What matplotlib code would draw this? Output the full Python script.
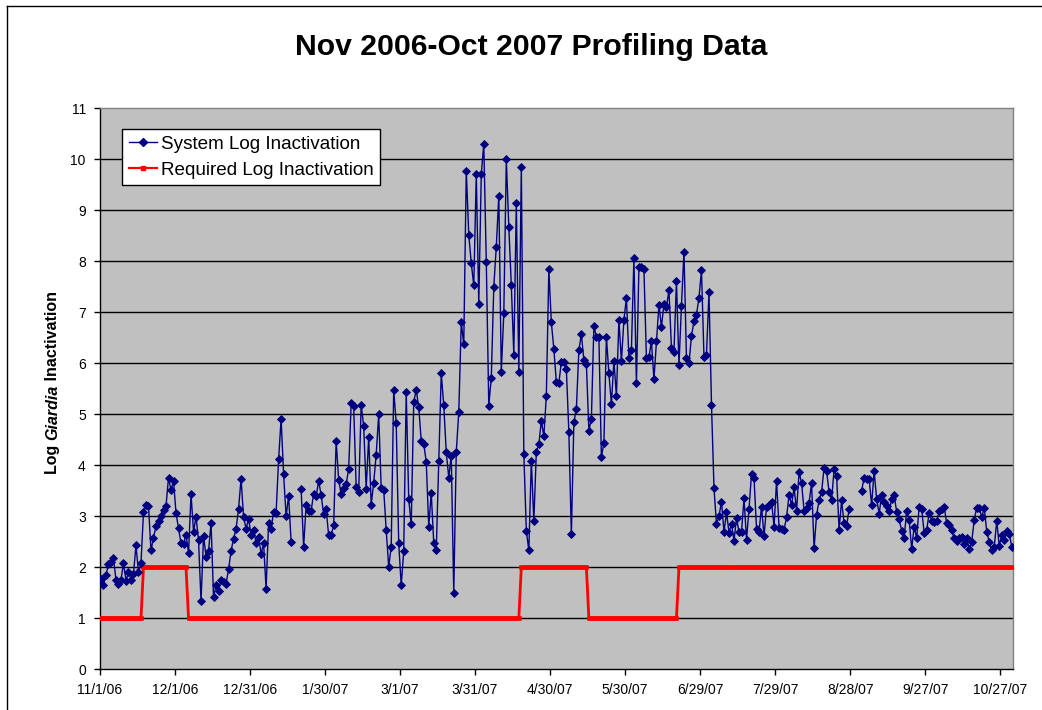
import numpy as np
import pandas as pd
import matplotlib
matplotlib.use("Agg")
import matplotlib.pyplot as plt
from matplotlib.lines import Line2D

# ---------------- data ----------------
start_date = "2006-11-01"
end_date = "2007-11-01"
nan = np.nan

# daily system log inactivation, starting 11/1/06 (nan = no reading)
system_log = [
    1.78, 1.65, 1.85, 2.06, 2.10, 2.18, 1.76, 1.67, 1.75, 2.08,
    1.74, 1.90, 1.76, 1.87, 2.43, 1.90, 2.08, 3.08, 3.22, 3.20,
    2.33, 2.58, 2.81, 2.90, 3.00, 3.12, 3.20, 3.76, 3.51, 3.70,
    3.06, 2.77, 2.47, 2.46, 2.64, 2.28, 3.43, 2.70, 2.99, 2.53,
    1.33, 2.62, 2.21, 2.32, 2.87, 1.41, 1.65, 1.54, 1.75, 1.72,
    1.68, 1.96, 2.32, 2.56, 2.76, 3.15, 3.74, 2.98, 2.76, 2.95,
    2.63, 2.73, 2.48, 2.59, 2.27, 2.47, 1.58, 2.87, 2.76, 3.08,
    3.07, 4.12, 4.91, 3.82, 3.00, 3.40, 2.50, nan, nan, nan,
    3.53, 2.40, 3.22, 3.11, 3.11, 3.44, 3.39, 3.70, 3.41, 3.05,
    3.14, 2.63, 2.63, 2.82, 4.48, 3.71, 3.44, 3.56, 3.63, 3.93,
    5.22, 5.16, 3.58, 3.48, 5.18, 4.77, 3.54, 4.55, 3.23, 3.66,
    4.21, 5.00, 3.55, 3.52, 2.73, 2.01, 2.40, 5.48, 4.83, 2.47,
    1.65, 2.31, 5.44, 3.34, 2.84, 5.24, 5.48, 5.14, 4.48, 4.42,
    4.07, 2.80, 3.46, 2.48, 2.33, 4.09, 5.80, 5.18, 4.26, 3.76,
    4.19, 1.50, 4.26, 5.04, 6.80, 6.37, 9.78, 8.52, 7.96, 7.53,
    9.71, 7.17, 9.71, 10.30, 7.99, 5.17, 5.72, 7.50, 8.29, 9.28,
    5.83, 6.98, 10.00, 8.68, 7.53, 6.17, 9.15, 5.83, 9.84, 4.23,
    2.72, 2.33, 4.09, 2.90, 4.26, 4.41, 4.87, 4.57, 5.36, 7.84,
    6.80, 6.28, 5.63, 5.61, 6.03, 6.03, 5.88, 4.65, 2.65, 4.84,
    5.11, 6.26, 6.57, 6.06, 5.99, 4.68, 4.91, 6.73, 6.52, 6.52,
    4.17, 4.43, 6.52, 5.80, 5.20, 6.05, 5.36, 6.85, 6.04, 6.85,
    7.28, 6.11, 6.27, 8.06, 5.61, 7.89, 7.88, 7.85, 6.10, 6.12,
    6.43, 5.69, 6.43, 7.15, 6.71, 7.16, 7.11, 7.43, 6.30, 6.22,
    7.61, 5.96, 7.13, 8.19, 6.11, 6.00, 6.53, 6.83, 6.95, 7.29,
    7.82, 6.13, 6.17, 7.39, 5.19, 3.56, 2.84, 3.00, 3.29, 2.69,
    3.08, 2.68, 2.85, 2.52, 2.97, 2.69, 2.70, 3.35, 2.54, 3.15,
    3.83, 3.75, 2.76, 2.70, 3.19, 2.61, 3.19, 3.23, 3.29, 2.80,
    3.69, 2.78, 2.76, 2.74, 2.98, 3.42, 3.22, 3.57, 3.11, 3.86,
    3.66, 3.11, 3.16, 3.27, 3.65, 2.37, 3.03, 3.31, 3.48, 3.95,
    3.88, 3.48, 3.32, 3.92, 3.79, 2.74, 3.31, 2.86, 2.81, 3.14,
    nan, nan, nan, nan, 3.50, 3.76, 3.73, 3.73, 3.22, 3.89,
    3.34, 3.05, 3.41, 3.28, 3.20, 3.10, 3.33, 3.41, 3.09, 2.94,
    2.72, 2.58, 3.10, 2.93, 2.36, 2.80, 2.57, 3.19, 3.14, 2.68,
    2.73, 3.07, 2.91, 2.89, 2.91, 3.10, 3.15, 3.19, 2.86, 2.83,
    2.73, 2.57, 2.52, 2.57, 2.60, 2.46, 2.57, 2.35, 2.50, 2.93,
    3.17, 3.17, 2.98, 3.17, 2.70, 2.50, 2.34, 2.40, 2.91, 2.42,
    2.63, 2.53, 2.72, 2.66, 2.40,
]

# required log inactivation: level and number of consecutive days at that level
required_levels = [1, 2, 1, 2, 1, 2]
required_run_days = [17, 18, 133, 27, 36, 134]

tick_dates = ["2006-11-01", "2006-12-01", "2006-12-31", "2007-01-30",
              "2007-03-01", "2007-03-31", "2007-04-30", "2007-05-30",
              "2007-06-29", "2007-07-29", "2007-08-28", "2007-09-27",
              "2007-10-27"]
tick_labels = ["11/1/06", "12/1/06", "12/31/06", "1/30/07", "3/1/07",
               "3/31/07", "4/30/07", "5/30/07", "6/29/07", "7/29/07",
               "8/28/07", "9/27/07", "10/27/07"]
y_ticks = list(range(0, 12))

series_labels = ["System Log Inactivation", "Required Log Inactivation"]
title = "Nov 2006-Oct 2007 Profiling Data"

# ---------------- styling ----------------
plt.rcParams["font.family"] = ["Liberation Sans", "DejaVu Sans"]

W, H = 1042, 710
fig = plt.figure(figsize=(W / 100, H / 100), dpi=100)
fig.patch.set_facecolor("white")

# plot area (pixel box converted to figure fractions)
px_left, px_right, px_top, px_bottom = 99.7, 1013.0, 108.3, 669.3
ax = fig.add_axes([px_left / W, 1 - px_bottom / H,
                   (px_right - px_left) / W, (px_bottom - px_top) / H])
ax.set_facecolor("#C0C0C0")

# points sit in the middle of each day slot
days = pd.date_range(start_date, periods=len(system_log), freq="D") + pd.Timedelta(hours=12)
required = np.repeat(required_levels, required_run_days)

BLUE = "#000080"
RED = "#FF0000"

ax.plot(days, system_log, color=BLUE, lw=1.0, marker="D", ms=4.2,
        mfc=BLUE, mec=BLUE, mew=0.6, zorder=4)
ax.plot(days, required, color=RED, lw=2.0, marker="s", ms=3.0,
        mfc=RED, mec=RED, mew=0.4, zorder=3)

ax.set_xlim(pd.Timestamp(start_date), pd.Timestamp(end_date))
ax.set_ylim(0, 11)

ax.set_xticks(pd.to_datetime(tick_dates))
ax.set_xticklabels(tick_labels)
ax.set_yticks(y_ticks)
ax.set_yticklabels([str(v) for v in y_ticks])

for v in y_ticks[1:-1]:
    ax.axhline(v, color="black", lw=1.0, zorder=1)

for side in ("top", "right"):
    ax.spines[side].set_color("#808080")
    ax.spines[side].set_linewidth(1.0)
for side in ("left", "bottom"):
    ax.spines[side].set_color("black")
    ax.spines[side].set_linewidth(1.0)

ax.tick_params(axis="both", direction="out", length=4, width=1.0,
               colors="black", labelsize=10)
ax.tick_params(axis="x", pad=6)
ax.tick_params(axis="y", pad=6)

# title
fig.text(531 / W, 1 - 55 / H, title, ha="center", va="baseline",
         fontsize=21.7, fontweight="bold")

# legend
handles = [
    Line2D([], [], color=BLUE, lw=1.0, marker="D", ms=4.2, mfc=BLUE, mec=BLUE),
    Line2D([], [], color=RED, lw=1.6, marker="s", ms=2.6, mfc=RED, mec=RED),
]
leg = fig.legend(handles, series_labels, loc="upper left",
                 bbox_to_anchor=(122 / W, 1 - 129 / H),
                 frameon=True, fancybox=False, shadow=False,
                 edgecolor="black", facecolor="white", framealpha=1,
                 fontsize=13.6, handlelength=1.5, handletextpad=0.2,
                 borderpad=0.36, labelspacing=0.44, borderaxespad=0,
                 numpoints=1)
leg.get_frame().set_linewidth(1.0)

# y-axis title with the genus name in italics, assembled from three pieces
fig.canvas.draw()
renderer = fig.canvas.get_renderer()
pieces = [("Log ", "normal"), ("Giardia", "italic"), (" Inactivation", "normal")]
ylab_fs = 11.5
texts = []
for s, style in pieces:
    t = fig.text(0, 0, s, rotation=90, fontsize=ylab_fs, fontweight="bold",
                 fontstyle=style, ha="center", va="bottom")
    texts.append(t)
heights = [t.get_window_extent(renderer).height for t in texts]
total = sum(heights)
cx, cy = 52.7, H - 382.5
y0 = cy - total / 2
for t, h in zip(texts, heights):
    t.set_position((cx / W, y0 / H))
    y0 += h

# chart-area border (extends past the right and bottom edges)
fig.add_artist(Line2D([7 / W, 1.0], [1 - 5.5 / H, 1 - 5.5 / H],
                      transform=fig.transFigure, color="black", lw=1.0))
fig.add_artist(Line2D([7 / W, 7 / W], [0.0, 1 - 5.5 / H],
                      transform=fig.transFigure, color="black", lw=1.0))

fig.savefig("out.png", dpi=100, facecolor="white")
